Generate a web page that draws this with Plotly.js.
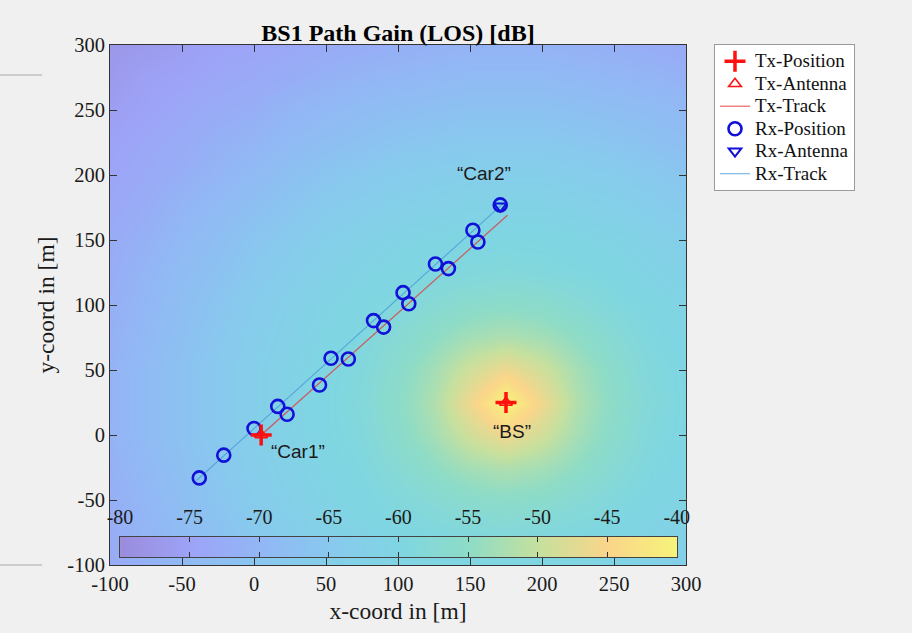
<!DOCTYPE html>
<html>
<head>
<meta charset="utf-8">
<script src="https://cdn.plot.ly/plotly-3.0.1.min.js"></script>
<style>html,body{margin:0;padding:0;background:#f0f0f0;}#chart{width:912px;height:633px;}</style>
</head>
<body>
<div id="chart"></div>
<script>
// ---- data ----
const gridX = [-100,-75,-50,-25,0,25,50,75,100,125,150,175,200,225,250,275,300];
const gridY = [-100,-75,-50,-25,0,25,50,75,100,125,150,175,200,225,250,275,300];
// path gain [dB], rows = gridY (bottom to top), columns = gridX
const pathGain = [
  [-73,-71.5,-69.5,-68,-66,-64.5,-63,-62,-61,-60.5,-60,-60,-60,-60.5,-61,-62,-63],
  [-72.5,-70.5,-68.5,-67,-65,-63.5,-62,-61,-60,-59.5,-59,-58.5,-59,-59.5,-60,-61,-62],
  [-72,-70,-68,-66,-64,-62.5,-61,-60,-59,-57.5,-56,-55.5,-56,-57.5,-59,-60,-61],
  [-71.5,-69.5,-67.5,-65.5,-63.5,-62,-60.5,-59.5,-57.5,-55,-53,-52,-53,-55,-57.5,-59.5,-60.5],
  [-71,-69,-67,-65,-63,-61.5,-60,-59,-56,-53,-49,-46,-49,-53,-56,-59,-60],
  [-71,-69,-67,-65,-63,-61.5,-60,-58.5,-55.5,-52,-46,-40,-46,-52,-55.5,-58.5,-60],
  [-71,-69,-67,-65,-63,-61.5,-60,-59,-56,-53,-49,-46,-49,-53,-56,-59,-60],
  [-71.5,-69.5,-67.5,-65.5,-63.5,-62,-60.5,-59.5,-57.5,-55,-53,-52,-53,-55,-57.5,-59.5,-60.5],
  [-72,-70,-68,-66,-64,-62.5,-61,-60,-59,-57.5,-56,-55.5,-56,-57.5,-59,-60,-61],
  [-72.5,-70.5,-68.5,-67,-65,-63.5,-62,-61,-60,-59.5,-59,-58.5,-59,-59.5,-60,-61,-62],
  [-73,-71.5,-69.5,-68,-66,-64.5,-63,-62,-61,-60.5,-60,-60,-60,-60.5,-61,-62,-63],
  [-74,-72.5,-70.5,-69,-67.5,-66,-64.5,-63.5,-62.5,-62,-61.5,-61.5,-61.5,-62,-62.5,-63.5,-64.5],
  [-74.5,-73.5,-72,-70.5,-69,-67.5,-66,-65,-64,-63.5,-63,-63,-63,-63.5,-64,-65,-66],
  [-75,-74,-73,-71.5,-70.5,-69,-68,-67,-66,-65.5,-65,-65,-65,-65.5,-66,-67,-68],
  [-76,-75,-74,-73,-72,-70.5,-69.5,-68.5,-68,-67.5,-67,-67,-67,-67.5,-68,-68.5,-69.5],
  [-77,-75.5,-75,-74,-73.5,-72.5,-71.5,-70.5,-70,-69.5,-69,-69,-69,-69.5,-70,-70.5,-71.5],
  [-77.5,-77,-76,-75,-74.5,-74,-73,-72.5,-72,-71.5,-71,-71,-71,-71.5,-72,-72.5,-73]
];
const colorLimits = [-80, -40];

const axisTickVals = [-100,-50,0,50,100,150,200,250,300];
const axisTickText = ['-100','-50','0','50','100','150','200','250','300'];
const cbTickVals = [-80,-75,-70,-65,-60,-55,-50,-45,-40];
const cbTickText = ['-80','-75','-70','-65','-60','-55','-50','-45','-40'];

const txPosX = [175, 5];
const txPosY = [25, 0];
const txTrackX = [5, 176];
const txTrackY = [0, 169];

const rxPosX = [-38,-21,0,16.5,23,45.5,53.5,65.5,83,90,103.5,107.5,126,135,152,155.5,171];
const rxPosY = [-33,-15.5,5,22,16,38.5,59,58.5,88,83,109.5,101,131.5,128,157.5,148.5,177];
const rxAntX = [171];
const rxAntY = [176];
const rxTrackX = [-40, 173];
const rxTrackY = [-35, 178];

const labelText = ['\u201CCar1\u201D', '\u201CCar2\u201D', '\u201CBS\u201D'];
const labelX = [30.5, 160, 179.5];
const labelY = [-12.5, 201.5, 2.5];

const legendNames = ['Tx-Position','Tx-Antenna','Tx-Track','Rx-Position','Rx-Antenna','Rx-Track'];
const xTitle = 'x-coord in [m]';
const yTitle = 'y-coord in [m]';
const chartTitle = 'BS1 Path Gain (LOS) [dB]';

// ---- styling ----
const serif = 'Liberation Serif, Times New Roman, serif';
const sans = 'Liberation Sans, Arial, sans-serif';
const red = '#ff1010';
const blue = '#1010d8';
const nm = s => '<span style="font-size:19px">' + s + '</span>';

const traces = [
  {type:'heatmap', x:gridX, y:gridY, z:pathGain, coloraxis:'coloraxis', zsmooth:'best', hoverinfo:'skip', showlegend:false},
  {type:'scatter', mode:'lines', name:nm(legendNames[2]), x:txTrackX, y:txTrackY, line:{color:'rgba(225,50,50,0.75)', width:1.2}, legendrank:3},
  {type:'scatter', mode:'lines', name:nm(legendNames[5]), x:rxTrackX, y:rxTrackY, line:{color:'rgba(70,150,215,0.7)', width:1.2}, legendrank:6},
  {type:'scatter', mode:'markers', name:nm(legendNames[3]), x:rxPosX, y:rxPosY, marker:{symbol:'circle-open', size:13, color:blue, line:{width:2.6, color:blue}}, legendrank:4},
  {type:'scatter', mode:'markers', name:nm(legendNames[4]), x:rxAntX, y:rxAntY, marker:{symbol:'triangle-down-open', size:11, color:blue, line:{width:2, color:blue}}, legendrank:5},
  {type:'scatter', mode:'markers', name:nm(legendNames[1]), x:txPosX, y:txPosY, marker:{symbol:'triangle-up-open', size:11, color:red, line:{width:1.6, color:red}}, legendrank:2},
  {type:'scatter', mode:'markers', name:nm(legendNames[0]), x:txPosX, y:txPosY, marker:{symbol:'cross-thin-open', size:15, color:red, line:{width:3.5, color:red}}, legendrank:1},
  {type:'heatmap', x:colorLimits, y:[0,1], z:[colorLimits, colorLimits], coloraxis:'coloraxis', zsmooth:'best', xaxis:'x2', yaxis:'y2', hoverinfo:'skip', showlegend:false}
];

const tickFont = {family:serif, size:20.5, color:'#1a1a1a'};
const titleFont = {family:serif, size:23.5, color:'#1a1a1a'};
const gridColor = 'rgba(30,30,70,0.2)';

const layout = {
  width:912, height:633,
  paper_bgcolor:'#f0f0f0', plot_bgcolor:'#ffffff',
  margin:{l:110, r:226, t:45, b:68, pad:0},
  title:{text:'<b>'+chartTitle+'</b>', font:{family:serif, size:24, color:'#000'}, x:0.5, xref:'paper', y:1, yref:'paper', yanchor:'bottom', pad:{b:4}},
  xaxis:{range:[-100,300], tickvals:axisTickVals, ticktext:axisTickText, ticks:'inside', ticklen:7, tickcolor:'#333', showline:true, linecolor:'#333', linewidth:1, mirror:'ticks',
         showgrid:true, gridcolor:gridColor, gridwidth:1, zeroline:false, layer:'above traces', tickfont:tickFont,
         title:{text:xTitle, font:titleFont, standoff:8}},
  yaxis:{range:[-100,300], tickvals:axisTickVals, ticktext:axisTickText, ticks:'inside', ticklen:7, tickcolor:'#333', showline:true, linecolor:'#333', linewidth:1, mirror:'ticks',
         showgrid:true, gridcolor:gridColor, gridwidth:1, zeroline:false, layer:'above traces', tickfont:tickFont,
         title:{text:yTitle, font:titleFont, standoff:6}},
  xaxis2:{domain:[0.0174,0.984], anchor:'y2', range:colorLimits, tickvals:cbTickVals, ticktext:cbTickText, side:'top', ticks:'inside', ticklen:5, tickcolor:'#333',
          showline:true, linecolor:'#444', mirror:'ticks', showgrid:false, zeroline:false, tickfont:{family:serif, size:20, color:'#1a1a1a'}, ticklabelstandoff:4},
  yaxis2:{domain:[0.0154,0.0538], anchor:'x2', range:[0,1], showticklabels:false, ticks:'', showgrid:false, zeroline:false,
          showline:true, linecolor:'#444', mirror:true},
  coloraxis:{cmin:colorLimits[0], cmax:colorLimits[1], showscale:false,
    colorscale:[[0,'#9b8cdc'],[0.125,'#9da3f7'],[0.25,'#92b7f5'],[0.375,'#88c9ee'],[0.5,'#7fd6e2'],[0.625,'#8edcc6'],[0.75,'#c6e09e'],[0.875,'#fad58a'],[1,'#f7f47a']]},
  legend:{x:1.0486, y:1.002, xanchor:'left', yanchor:'top', bgcolor:'#ffffff', bordercolor:'#9a9a9a', borderwidth:1,
          font:{family:serif, size:15, color:'#111'}, tracegroupgap:0},
  annotations: labelText.map((t,i)=>({text:t, x:labelX[i], y:labelY[i], xref:'x', yref:'y', showarrow:false,
          font:{family:sans, size:19, color:'#1a1a1a'}})),
  shapes:[
    {type:'line', xref:'paper', yref:'paper', x0:-110/576, x1:-68/576, y0:(565-75)/520, y1:(565-75)/520, line:{color:'#a8a8a8', width:1}},
    {type:'line', xref:'paper', yref:'paper', x0:-110/576, x1:-68/576, y0:0, y1:0, line:{color:'#a8a8a8', width:1}}
  ],
  showlegend:true
};

Plotly.newPlot('chart', traces, layout, {displayModeBar:false, staticPlot:true});
</script>
</body>
</html>
